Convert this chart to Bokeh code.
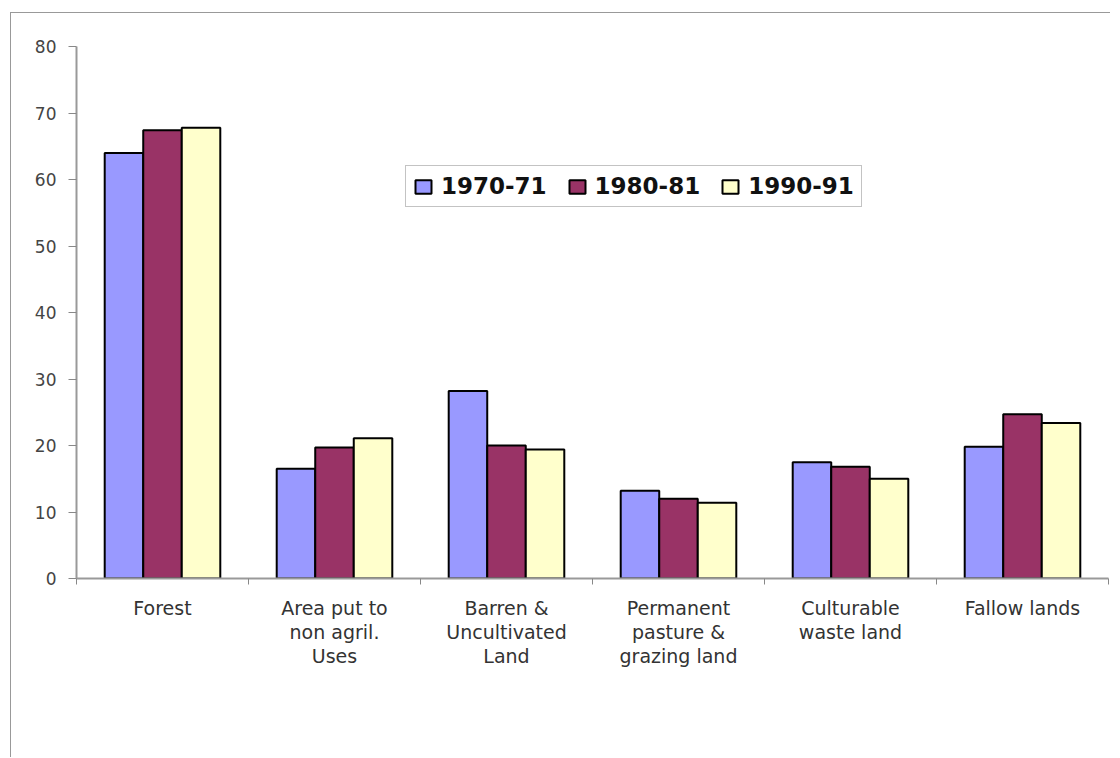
from bokeh.plotting import figure
from bokeh.models import Range1d, FixedTicker, ColumnDataSource, Legend, LegendItem
from bokeh.transform import dodge
from bokeh.embed import file_html
from bokeh.resources import INLINE

# ---- data ----
categories = ["Forest",
              "Area put to\nnon agril.\nUses",
              "Barren &\nUncultivated\nLand",
              "Permanent\npasture &\ngrazing land",
              "Culturable\nwaste land",
              "Fallow lands"]
series_names = ["1970-71", "1980-81", "1990-91"]
v1970 = [64.0, 16.5, 28.2, 13.2, 17.5, 19.8]
v1980 = [67.4, 19.7, 20.0, 12.0, 16.8, 24.7]
v1990 = [67.8, 21.1, 19.4, 11.4, 15.0, 23.4]
y_ticks = [0, 10, 20, 30, 40, 50, 60, 70, 80]
colors = ["#9999FF", "#993366", "#FFFFCC"]

n = len(categories)
centers = [i + 0.5 for i in range(n)]
bounds = [i for i in range(n + 1)]

source = ColumnDataSource(data=dict(x=centers, a=v1970, b=v1980, c=v1990))

p = figure(width=1100, height=745, output_backend="svg", toolbar_location=None,
           x_range=Range1d(0, n), y_range=Range1d(0, 80),
           min_border_left=65, min_border_right=3, min_border_top=33, min_border_bottom=180)
p.outline_line_color = None
p.xgrid.visible = False
p.ygrid.visible = False
p.background_fill_color = "white"
p.border_fill_color = "white"
p.styles = {"border-top": "1px solid #999", "border-left": "1px solid #999"}
p.margin = (12, 0, 0, 10)

bw = 0.224
renderers = []
for col, off, color in zip(["a", "b", "c"], [-bw, 0, bw], colors):
    r = p.vbar(x=dodge("x", off), top=col, width=bw, source=source,
               fill_color=color, line_color="black", line_width=2)
    renderers.append(r)

# x axis
xa = p.xaxis[0]
xa.ticker = FixedTicker(ticks=centers, minor_ticks=bounds)
xa.major_label_overrides = {c: lab for c, lab in zip(centers, categories)}
xa.major_tick_line_color = None
xa.major_tick_out = 0
xa.major_tick_in = 0
xa.minor_tick_line_color = "#888888"
xa.minor_tick_out = 6
xa.minor_tick_in = 0
xa.axis_line_color = "#999999"
xa.axis_line_width = 2
xa.major_label_text_font = "DejaVu Sans"
xa.major_label_text_font_size = "19px"
xa.major_label_text_color = "#333333"
xa.major_label_text_line_height = 1.1
xa.major_label_standoff = 12

# y axis
ya = p.yaxis[0]
ya.ticker = FixedTicker(ticks=y_ticks)
ya.major_tick_out = 8
ya.major_tick_in = 0
ya.major_tick_line_color = "#888888"
ya.minor_tick_line_color = None
ya.axis_line_color = "#999999"
ya.axis_line_width = 2
ya.major_label_text_font = "DejaVu Sans"
ya.major_label_text_font_size = "17px"
ya.major_label_text_color = "#444444"
ya.major_label_standoff = 12

legend = Legend(items=[LegendItem(label=nm, renderers=[r]) for nm, r in zip(series_names, renderers)],
                orientation="horizontal", location=(329, 371))
legend.label_text_font = "DejaVu Sans"
legend.label_text_font_style = "bold"
legend.label_text_font_size = "23px"
legend.label_text_color = "#111111"
legend.glyph_width = 20
legend.glyph_height = 17
legend.label_standoff = 8
legend.spacing = 20
legend.padding = 7
legend.margin = 0
legend.border_line_color = "#888888"
legend.border_line_width = 1.5
legend.background_fill_color = "white"
p.add_layout(legend)

open("out.html", "w").write(file_html(p, INLINE))
